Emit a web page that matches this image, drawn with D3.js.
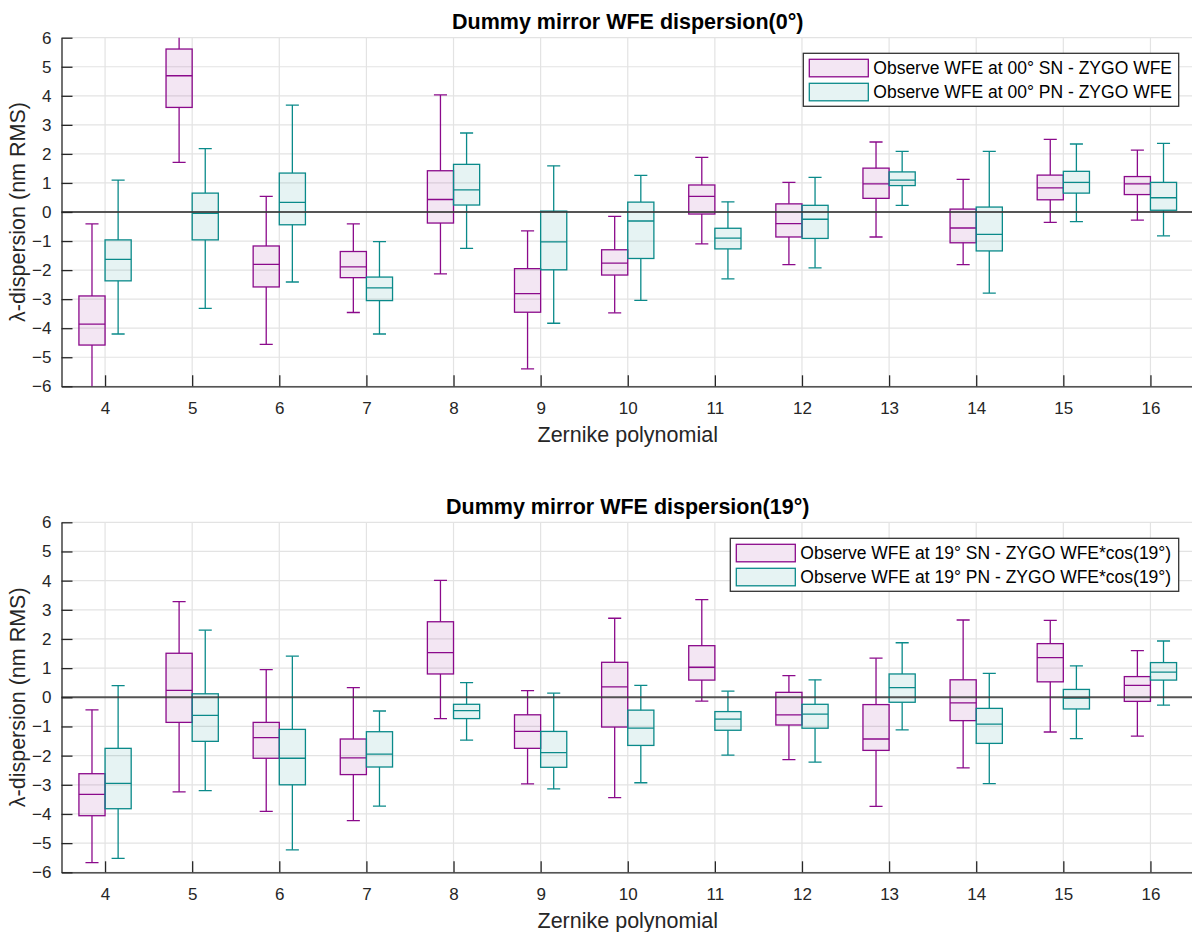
<!DOCTYPE html>
<html><head><meta charset="utf-8">
<script src="https://cdn.jsdelivr.net/npm/d3@7"></script>
<style>
html,body{margin:0;padding:0;background:#fff;}
svg{display:block;font-family:"Liberation Sans",Arial,sans-serif;}
</style></head>
<body><svg id="chart" width="1192" height="932"></svg>
<script>
// ---- data ----
const zernike = [4,5,6,7,8,9,10,11,12,13,14,15,16];
const yTicks = [-6,-5,-4,-3,-2,-1,0,1,2,3,4,5,6];
// each entry: [lower whisker, Q1, median, Q3, upper whisker]
const topSN = [
  [-6.3,-4.58,-3.86,-2.89,-0.41],[1.71,3.60,4.69,5.61,6.3],[-4.56,-2.58,-1.80,-1.17,0.54],
  [-3.46,-2.26,-1.89,-1.36,-0.41],[-2.13,-0.38,0.43,1.42,4.03],[-5.40,-3.45,-2.81,-1.95,-0.65],
  [-3.47,-2.17,-1.76,-1.30,-0.15],[-1.10,-0.07,0.54,0.93,1.88],[-1.81,-0.86,-0.40,0.28,1.02],
  [-0.86,0.47,0.97,1.51,2.41],[-1.81,-1.06,-0.55,0.10,1.12],[-0.36,0.42,0.83,1.27,2.50],
  [-0.28,0.60,0.97,1.22,2.13]];
const topPN = [
  [-4.20,-2.37,-1.63,-0.96,1.10],[-3.32,-0.96,-0.05,0.65,2.18],[-2.41,-0.44,0.33,1.34,3.68],
  [-4.20,-3.05,-2.61,-2.24,-1.02],[-1.25,0.24,0.76,1.64,2.72],[-3.83,-1.99,-1.03,0.03,1.59],
  [-3.04,-1.60,-0.31,0.34,1.26],[-2.30,-1.27,-0.90,-0.56,0.35],[-1.92,-0.91,-0.25,0.23,1.19],
  [0.23,0.91,1.10,1.38,2.09],[-2.79,-1.34,-0.77,0.17,2.09],[-0.33,0.65,1.02,1.40,2.34],
  [-0.82,0.06,0.49,1.02,2.36]];
const botSN = [
  [-5.67,-4.06,-3.33,-2.62,-0.43],[-3.24,-0.86,0.24,1.51,3.28],[-3.91,-2.09,-1.38,-0.86,0.95],
  [-4.23,-2.65,-2.08,-1.43,0.33],[-0.73,0.80,1.53,2.59,4.01],[-2.97,-1.75,-1.17,-0.60,0.23],
  [-3.44,-1.02,0.36,1.20,2.71],[-0.13,0.59,1.03,1.77,3.35],[-2.14,-0.95,-0.60,0.17,0.74],
  [-3.74,-1.82,-1.43,-0.25,1.34],[-2.42,-0.80,-0.19,0.60,2.65],[-1.19,0.53,1.36,1.84,2.64],
  [-1.33,-0.14,0.41,0.71,1.60]];
const botPN = [
  [-5.52,-3.82,-2.95,-1.75,0.40],[-3.20,-1.51,-0.62,0.12,2.30],[-5.23,-3.00,-2.09,-1.10,1.41],
  [-3.73,-2.39,-1.95,-1.18,-0.47],[-1.47,-0.73,-0.46,-0.24,0.50],[-3.14,-2.40,-1.90,-1.17,0.14],
  [-2.93,-1.65,-1.06,-0.44,0.41],[-1.98,-1.13,-0.75,-0.49,0.21],[-2.22,-1.06,-0.58,-0.24,0.60],
  [-1.12,-0.17,0.33,0.80,1.87],[-2.96,-1.58,-0.92,-0.38,0.82],[-1.42,-0.40,-0.03,0.27,1.08],
  [-0.27,0.59,0.86,1.19,1.93]];
const titles = ["Dummy mirror WFE dispersion(0°)","Dummy mirror WFE dispersion(19°)"];
const legendTop = ["Observe WFE at 00° SN - ZYGO WFE","Observe WFE at 00° PN - ZYGO WFE"];
const legendBot = ["Observe WFE at 19° SN - ZYGO WFE*cos(19°)","Observe WFE at 19° PN - ZYGO WFE*cos(19°)"];
const xLabel = "Zernike polynomial";
const yLabel = "λ-dispersion (nm RMS)";

// ---- drawing ----
const svg = d3.select("#chart");
const SN_COLOR = "#8b0a8b", PN_COLOR = "#0a8a8a";
const TXT = "#262626";
const x = d3.scaleLinear().domain([3.5,16.5]).range([61.5,1194]);
const boxW = 0.3, capW = 0.15;

function panel(idx, yTop, yBot, sn, pn, legendTexts, legendBox){
  const y = d3.scaleLinear().domain([-6,6]).range([yBot,yTop]);
  const g = svg.append("g");
  const clipId = "clip"+idx;
  svg.append("defs").append("clipPath").attr("id",clipId)
    .append("rect").attr("x",x.range()[0]).attr("y",yTop).attr("width",x.range()[1]-x.range()[0]).attr("height",yBot-yTop);
  // grid
  g.append("g").selectAll("line").data(zernike).join("line")
    .attr("x1",d=>x(d)).attr("x2",d=>x(d)).attr("y1",yTop).attr("y2",yBot)
    .attr("stroke","#e3e3e3").attr("stroke-width",1.2);
  g.append("g").selectAll("line").data(yTicks).join("line")
    .attr("x1",x.range()[0]).attr("x2",x.range()[1]).attr("y1",d=>y(d)).attr("y2",d=>y(d))
    .attr("stroke","#e3e3e3").attr("stroke-width",1.2);
  const plot = g.append("g").attr("clip-path",`url(#${clipId})`);
  function drawSeries(data, color, offset){
    const gs = plot.append("g");
    data.forEach((d,i)=>{
      const c = zernike[i] + offset;
      const bx0 = x(c - boxW/2), bx1 = x(c + boxW/2);
      const cx = x(c);
      const gg = gs.append("g").attr("stroke",color).attr("stroke-width",1.3).attr("fill","none");
      gg.append("line").attr("x1",cx).attr("x2",cx).attr("y1",y(d[3])).attr("y2",y(d[4]));
      gg.append("line").attr("x1",cx).attr("x2",cx).attr("y1",y(d[1])).attr("y2",y(d[0]));
      gg.append("line").attr("x1",x(c-capW/2)).attr("x2",x(c+capW/2)).attr("y1",y(d[4])).attr("y2",y(d[4]));
      gg.append("line").attr("x1",x(c-capW/2)).attr("x2",x(c+capW/2)).attr("y1",y(d[0])).attr("y2",y(d[0]));
      gg.append("rect").attr("x",bx0).attr("y",y(d[3])).attr("width",bx1-bx0).attr("height",y(d[1])-y(d[3]))
        .attr("fill",color).attr("fill-opacity",0.1);
      gg.append("line").attr("x1",bx0).attr("x2",bx1).attr("y1",y(d[2])).attr("y2",y(d[2]));
    });
  }
  drawSeries(sn, SN_COLOR, -boxW/2);
  drawSeries(pn, PN_COLOR, boxW/2);
  // zero line
  g.append("line").attr("x1",x.range()[0]).attr("x2",x.range()[1]).attr("y1",y(0)).attr("y2",y(0))
    .attr("stroke","#3a3a3a").attr("stroke-opacity",0.85).attr("stroke-width",2);
  // axes
  const xAxis = d3.axisBottom(x).tickValues(zernike).tickSizeInner(-11).tickSizeOuter(0).tickPadding(16).tickFormat(d3.format("d"));
  const ax = g.append("g").attr("transform",`translate(0,${yBot})`).call(xAxis);
  ax.select(".domain").attr("stroke",TXT).attr("stroke-width",1.3);
  ax.selectAll(".tick line").attr("stroke",TXT).attr("stroke-width",1.3);
  ax.selectAll(".tick text").attr("fill",TXT).attr("font-size",17).attr("font-family","Liberation Sans, Arial, sans-serif");
  const yAxis = d3.axisLeft(y).tickValues(yTicks).tickSizeInner(-11).tickSizeOuter(0).tickPadding(10).tickFormat(d3.format("d"));
  const ay = g.append("g").attr("transform",`translate(${x.range()[0]},0)`).call(yAxis);
  ay.select(".domain").attr("stroke",TXT).attr("stroke-width",1.3);
  ay.selectAll(".tick line").attr("stroke",TXT).attr("stroke-width",1.3);
  ay.selectAll(".tick text").attr("fill",TXT).attr("font-size",17).attr("font-family","Liberation Sans, Arial, sans-serif");
  // labels
  const cxm = (x.range()[0]+x.range()[1])/2;
  g.append("text").attr("x",cxm).attr("y",yTop-8.4).attr("text-anchor","middle")
    .attr("font-weight","bold").attr("font-size",21.5).attr("fill","#000").text(titles[idx]);
  g.append("text").attr("x",cxm).attr("y",yBot+55.5).attr("text-anchor","middle")
    .attr("font-size",21.5).attr("fill",TXT).text(xLabel);
  g.append("text").attr("transform",`translate(25,${(yTop+yBot)/2}) rotate(-90)`).attr("text-anchor","middle")
    .attr("font-size",21.5).attr("fill",TXT).text(yLabel);
  // legend
  const lg = g.append("g");
  lg.append("rect").attr("x",legendBox.x).attr("y",legendBox.y).attr("width",legendBox.w).attr("height",legendBox.h)
    .attr("fill","#fff").attr("stroke","#333").attr("stroke-width",1.3);
  const cols = [SN_COLOR, PN_COLOR];
  legendTexts.forEach((t,i)=>{
    const ry = legendBox.y + 6 + i*24;
    lg.append("rect").attr("x",legendBox.x+6).attr("y",ry).attr("width",59).attr("height",17.5)
      .attr("fill",cols[i]).attr("fill-opacity",0.1).attr("stroke",cols[i]).attr("stroke-width",1.3);
    lg.append("text").attr("x",legendBox.x+70).attr("y",ry+15).attr("font-size",17.5).attr("fill","#000").text(t);
  });
}

panel(0, 37.7, 386.3, topSN, topPN, legendTop, {x:803.3,y:53.3,w:375.4,h:53});
panel(1, 522.3, 872.3, botSN, botPN, legendBot, {x:730.3,y:538.3,w:448.4,h:53});
</script></body></html>
